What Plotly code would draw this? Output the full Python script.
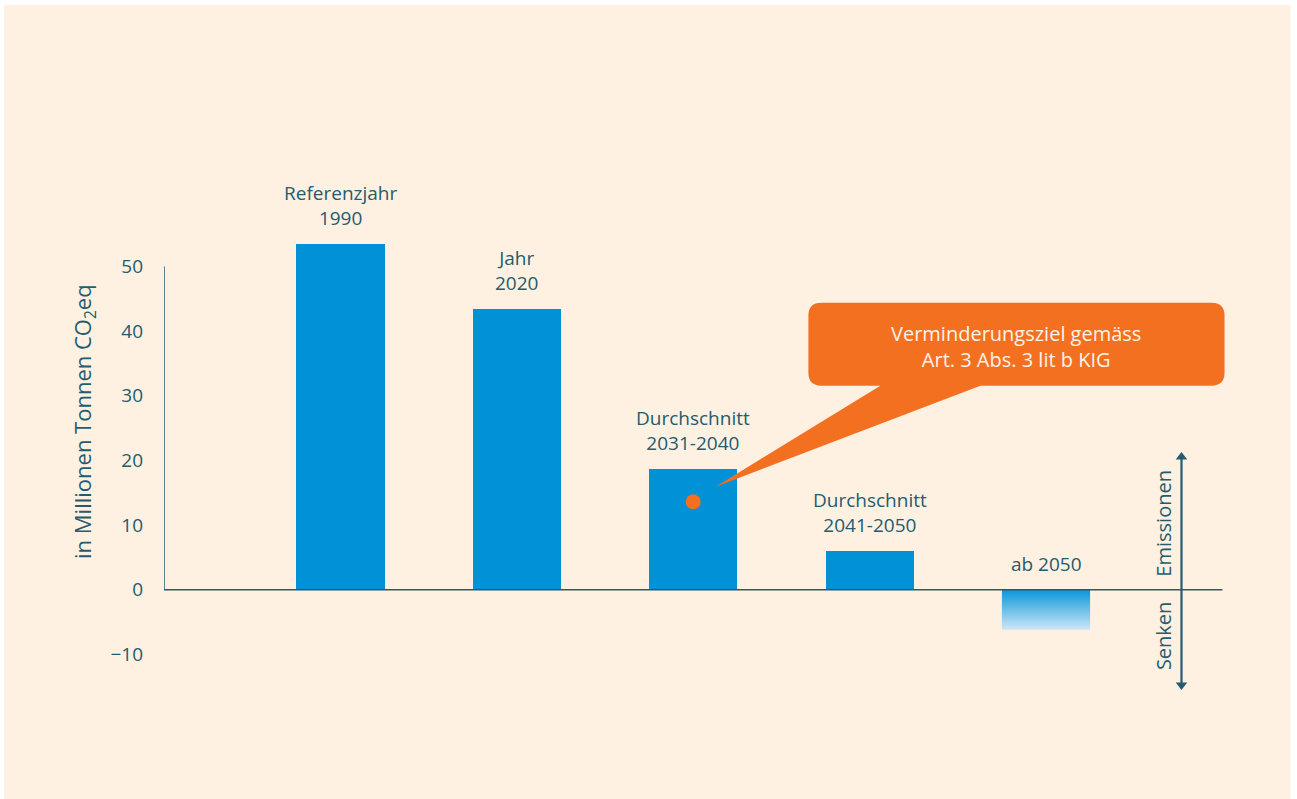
import plotly.graph_objects as go

# Emissions path (Mio. t CO2eq)
categories = ["Referenzjahr<br>1990", "Jahr<br>2020", "Durchschnitt<br>2031-2040",
              "Durchschnitt<br>2041-2050", "ab 2050"]
emissions = [53.5, 43.4, 18.7, 6.0, -6.2]
target_value = 13.6          # reduction target marker inside the 2031-2040 bar
target_index = 2
y_tick_values = [-10, 0, 10, 20, 30, 40, 50]

BAR_W = 0.5
TEXT = "#245b6e"
BLUE = "#0091d6"
ORANGE = "#f37021"
CREAM = "#fef1e2"
FONT = "Open Sans"

positions = list(range(len(categories)))
pos_idx = [i for i, v in enumerate(emissions) if v >= 0]
neg_idx = [i for i, v in enumerate(emissions) if v < 0]

fig = go.Figure()

# positive emissions as plain bars
fig.add_trace(go.Bar(
    x=[positions[i] for i in pos_idx],
    y=[emissions[i] for i in pos_idx],
    width=BAR_W,
    marker=dict(color=BLUE, line=dict(width=0)),
    hoverinfo="skip",
))

# net sinks: bar outline filled with a vertical gradient
for i in neg_idx:
    xl, xr = positions[i] - BAR_W / 2, positions[i] + BAR_W / 2
    fig.add_trace(go.Scatter(
        x=[xl, xr, xr, xl, xl],
        y=[0, 0, emissions[i], emissions[i], 0],
        mode="lines", line=dict(width=0),
        fill="toself",
        fillgradient=dict(type="vertical",
                          colorscale=[[0, "#cfe6f7"], [1, "#0897d8"]]),
        hoverinfo="skip",
    ))

# target marker
fig.add_trace(go.Scatter(
    x=[positions[target_index]], y=[target_value], mode="markers",
    marker=dict(size=15, color=ORANGE, line=dict(width=0)),
    hoverinfo="skip",
))

# emissions / sinks double arrow
AX = 4.768
ARROW_TOP, ARROW_BOTTOM = 21.4, -15.6
fig.add_trace(go.Scatter(
    x=[AX, AX], y=[ARROW_BOTTOM + 1.0, ARROW_TOP - 1.0], mode="lines",
    line=dict(color=TEXT, width=2.2), hoverinfo="skip",
))
fig.add_trace(go.Scatter(
    x=[AX, AX], y=[ARROW_TOP - 0.85, ARROW_BOTTOM + 0.85], mode="markers",
    marker=dict(symbol=["triangle-up", "triangle-down"], size=10, color=TEXT,
                line=dict(width=0)),
    hoverinfo="skip",
))

annotations = []
for i, lab in enumerate(categories):
    annotations.append(dict(
        x=positions[i], y=max(emissions[i], 0), xref="x", yref="y",
        text=lab, showarrow=False, yanchor="bottom", yshift=11,
        font=dict(family=FONT, size=19, color=TEXT), align="center",
    ))

# axis title
annotations.append(dict(
    x=-0.0749, y=26.1, xref="paper", yref="y", xanchor="center", yanchor="middle",
    text="in Millionen Tonnen CO<sub>2</sub>eq", textangle=-90, showarrow=False,
    font=dict(family=FONT, size=22, color=TEXT),
))

annotations += [
    dict(x=AX, y=10.3, xref="x", yref="y", xshift=-18, text="Emissionen",
         xanchor="center", yanchor="middle",
         textangle=-90, showarrow=False, font=dict(family=FONT, size=20, color=TEXT)),
    dict(x=AX, y=-7.1, xref="x", yref="y", xshift=-18, text="Senken",
         xanchor="center", yanchor="middle",
         textangle=-90, showarrow=False, font=dict(family=FONT, size=20, color=TEXT)),
]

# callout text
annotations.append(dict(
    x=3.83, y=37.7, xref="x", yref="y", xanchor="center", yanchor="middle",
    text="Verminderungsziel gemäss<br>Art. 3 Abs. 3 lit b KIG", showarrow=False,
    font=dict(family=FONT, size=20, color="#fff3e8"), align="center",
))

# callout bubble with a tail pointing to the target marker
bx0, bx1, by0, by1 = 2.653, 5.012, 31.56, 44.4
rx, ry = 0.074, 2.0
tail_l, tail_r = 3.061, 3.628
tip_x, tip_y = 2.125, 15.9
bubble = (
    f"M {bx0+rx},{by1} L {bx1-rx},{by1} Q {bx1},{by1} {bx1},{by1-ry} "
    f"L {bx1},{by0+ry} Q {bx1},{by0} {bx1-rx},{by0} "
    f"L {tail_r},{by0} L {tip_x},{tip_y} L {tail_l},{by0} "
    f"L {bx0+rx},{by0} Q {bx0},{by0} {bx0},{by0+ry} "
    f"L {bx0},{by1-ry} Q {bx0},{by1} {bx0+rx},{by1} Z"
)

shapes = [
    # cream panel
    dict(type="rect", xref="paper", yref="paper", x0=-0.1497, x1=1.0537,
         y0=-0.1125, y1=1.0042, fillcolor=CREAM, line=dict(width=0), layer="below"),
    dict(type="path", xref="x", yref="y", path=bubble, fillcolor=ORANGE,
         line=dict(width=0), layer="above"),
    # value axis line and baseline
    dict(type="line", xref="x", yref="y", x0=-1, x1=-1, y0=0, y1=50,
         line=dict(color=TEXT, width=1.5)),
    dict(type="line", xref="x", yref="y", x0=-1, x1=5, y0=0, y1=0,
         line=dict(color=TEXT, width=1.5)),
]

fig.update_layout(
    width=1297, height=799,
    margin=dict(l=164, r=64.4, t=8, b=80),
    paper_bgcolor="white", plot_bgcolor="rgba(0,0,0,0)",
    showlegend=False,
    xaxis=dict(range=[-1, 5.06], visible=False, fixedrange=True),
    yaxis=dict(range=[-20, 90], tickvals=y_tick_values, showgrid=False,
               zeroline=False, showline=False, ticks="", ticklabelstandoff=20,
               tickfont=dict(family=FONT, size=19, color=TEXT), fixedrange=True),
    annotations=annotations,
    shapes=shapes,
    bargap=0,
)

fig.write_html("out.html")
